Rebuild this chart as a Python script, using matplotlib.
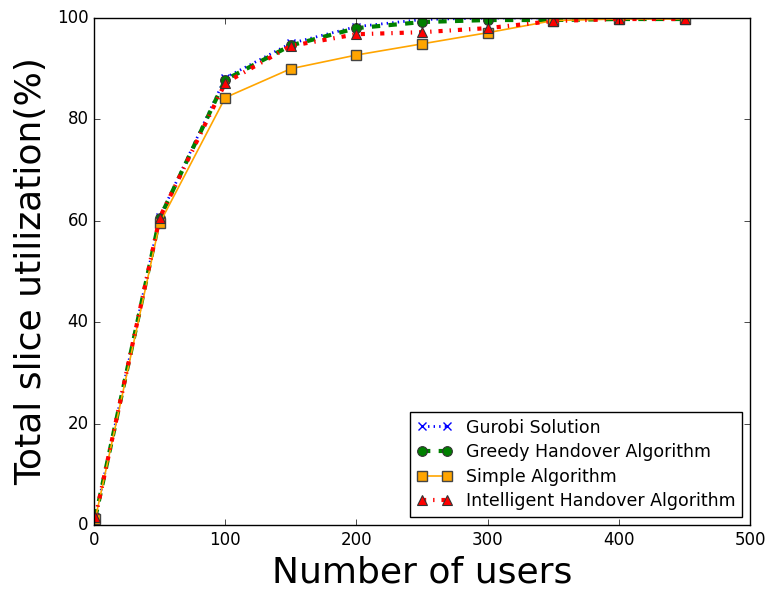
import matplotlib.pyplot as plt

users = [1, 50, 100, 150, 200, 250, 300, 350, 400, 450]

gurobi = [1.5, 60.7, 88.2, 95.0, 98.3, 99.7, 100.0, 100.0, 100.0, 100.0]
greedy = [1.5, 60.5, 87.8, 94.6, 98.0, 99.2, 99.6, 99.6, 99.8, 99.8]
simple = [1.3, 59.5, 84.3, 90.0, 92.7, 94.9, 97.1, 99.5, 99.8, 99.8]
intelligent = [1.5, 60.6, 87.2, 94.5, 96.8, 97.2, 98.0, 99.4, 99.8, 99.8]


def main():
    plt.style.use("classic")
    plt.rcParams["figure.facecolor"] = "white"
    plt.rcParams["savefig.facecolor"] = "white"

    fig = plt.figure(figsize=(7.67, 5.9), dpi=100)
    ax = fig.add_axes([0.1226, 0.110, 0.8554, 0.8595])

    ax.plot(users, gurobi, "x:", color="blue", lw=2, mew=1, ms=6,
            label="Gurobi Solution")
    ax.plot(users, greedy, "o--", color="green", lw=3, mec="#333333",
            mew=0.8, ms=7, label="Greedy Handover Algorithm")
    ax.plot(users, simple, "s-", color="orange", lw=1.2, mec="#444444",
            mew=1, ms=6.5, label="Simple Algorithm")
    ax.plot(users, intelligent, "^-.", color="red", lw=3, mec="#333333",
            mew=0.8, ms=7, label="Intelligent Handover Algorithm")

    ax.set_xlim(0, 500)
    ax.set_ylim(0, 100)
    ax.tick_params(labelsize=12)

    ax.set_xlabel("Number of users", fontsize=26)
    ax.set_ylabel("Total slice utilization(%)", fontsize=26, labelpad=6)

    ax.legend(loc="lower right", fontsize=12.5, numpoints=2,
              labelspacing=0.38, borderaxespad=0.45)

    fig.savefig("out.png", dpi=100)
    plt.close(fig)


if __name__ == "__main__":
    main()
